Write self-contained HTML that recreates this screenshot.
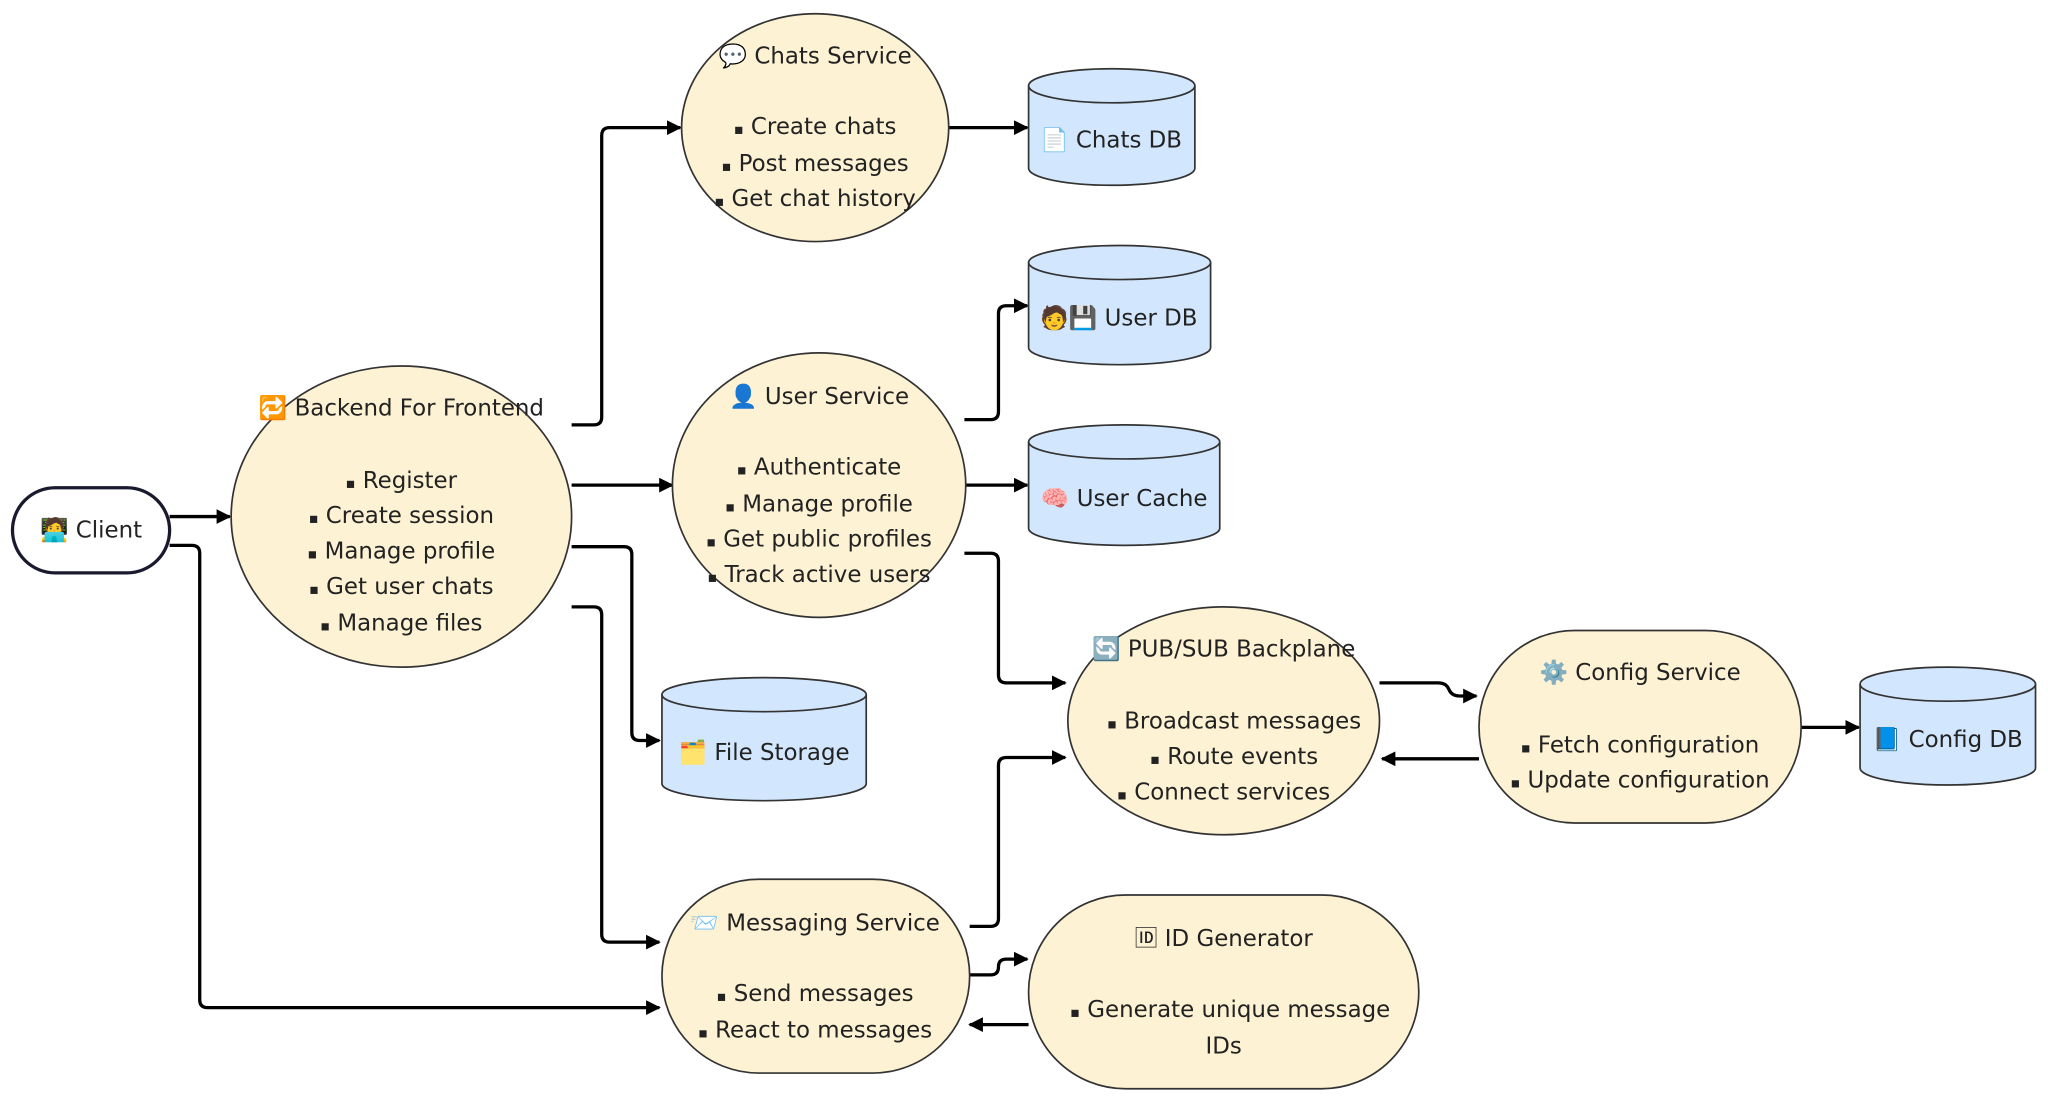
<!DOCTYPE html>
<html><head><meta charset="utf-8"><style>
html,body{margin:0;padding:0;background:#fff;}
svg{display:block}
text{font-family:"DejaVu Sans","Liberation Sans","Noto Sans CJK SC",sans-serif;font-size:17.5px;fill:#222;text-anchor:middle;}
tspan.b{font-size:11px;}
</style></head><body>
<svg width="2048" height="1102" viewBox="0 0 1564 841.6" xmlns="http://www.w3.org/2000/svg">
<defs>
<marker id="a" viewBox="0 0 10 10" refX="9" refY="5" markerWidth="4.5" markerHeight="4.5" orient="auto"><path d="M0,0L10,5L0,10z" fill="#000"/></marker>
</defs>
<g transform="translate(-0.5,-0.5)">
<g fill="none" stroke="#000" stroke-width="2.5" stroke-linejoin="round" marker-end="url(#a)">
<path d="M130,395H176"/>
<path d="M130,417H147Q153,417 153,423V764Q153,770 159,770H504"/>
<path d="M437,325H454Q460,325 460,319V104Q460,98 466,98H520"/>
<path d="M437,371H514"/>
<path d="M437,418H477Q483,418 483,424V560Q483,566 489,566H504"/>
<path d="M437,464H454Q460,464 460,470V714Q460,720 466,720H504"/>
<path d="M724,98H785"/>
<path d="M737,321H757Q763,321 763,315V240Q763,234 769,234H785"/>
<path d="M737,371H785"/>
<path d="M737,423H757Q763,423 763,429V516Q763,522 769,522H814"/>
<path d="M741,708H757Q763,708 763,702V585Q763,579 769,579H814"/>
<path d="M741,745H757Q763,745 763,739Q763,733 769,733H785"/>
<path d="M786,783H741"/>
<path d="M1054,522H1099Q1105,522 1107,527Q1109,532 1115,532H1128"/>
<path d="M1130,580H1056"/>
<path d="M1376,556H1420"/>
</g>
<g stroke="#333" stroke-width="1.3" fill="#fdf2d3">
<ellipse cx="307" cy="395" rx="130" ry="115"/>
<ellipse cx="623" cy="98" rx="102" ry="87"/>
<ellipse cx="626" cy="371" rx="112" ry="101"/>
<ellipse cx="935" cy="551" rx="119" ry="87"/>
<rect x="1130" y="482" width="246" height="147" rx="73"/>
<rect x="506" y="672" width="235" height="148" rx="74"/>
<rect x="786" y="684" width="298" height="148" rx="74"/>
</g>
<rect x="10" y="373" width="120" height="65" rx="32.5" fill="#fff" stroke="#1a1a2e" stroke-width="2.5"/>
<g stroke="#333" stroke-width="1.3" fill="#d2e7fd">
<path d="M786,66V129A63.5,13 0 0 0 913,129V66"/><ellipse cx="849.5" cy="66" rx="63.5" ry="13"/>
<path d="M786,201V266A69.5,13 0 0 0 925,266V201"/><ellipse cx="855.5" cy="201" rx="69.5" ry="13"/>
<path d="M786,338V404A73,13 0 0 0 932,404V338"/><ellipse cx="859" cy="338" rx="73" ry="13"/>
<path d="M506,531V599A78,13 0 0 0 662,599V531"/><ellipse cx="584" cy="531" rx="78" ry="13"/>
<path d="M1421,523V587A67,13 0 0 0 1555,587V523"/><ellipse cx="1488" cy="523" rx="67" ry="13"/>
</g>
<text x="70" y="411">🧑‍💻 Client</text>
<text x="307" y="318">🔁 Backend For Frontend</text>
<text x="307" y="373"><tspan class="b">▪</tspan> Register</text>
<text x="307" y="400"><tspan class="b">▪</tspan> Create session</text>
<text x="307" y="427"><tspan class="b">▪</tspan> Manage profile</text>
<text x="307" y="454"><tspan class="b">▪</tspan> Get user chats</text>
<text x="307" y="482"><tspan class="b">▪</tspan> Manage files</text>
<text x="623" y="49">💬 Chats Service</text>
<text x="623" y="103"><tspan class="b">▪</tspan> Create chats</text>
<text x="623" y="131"><tspan class="b">▪</tspan> Post messages</text>
<text x="623" y="158"><tspan class="b">▪</tspan> Get chat history</text>
<text x="849" y="113">📄 Chats DB</text>
<text x="626" y="309">👤 User Service</text>
<text x="626" y="363"><tspan class="b">▪</tspan> Authenticate</text>
<text x="626" y="391"><tspan class="b">▪</tspan> Manage profile</text>
<text x="626" y="418"><tspan class="b">▪</tspan> Get public profiles</text>
<text x="626" y="445"><tspan class="b">▪</tspan> Track active users</text>
<text x="855" y="249">🧑💾 User DB</text>
<text x="859" y="387">🧠 User Cache</text>
<text x="584" y="581">🗂️ File Storage</text>
<text x="935" y="502">🔄 PUB/SUB Backplane</text>
<text x="943" y="557"><tspan class="b">▪</tspan> Broadcast messages</text>
<text x="943" y="584"><tspan class="b">▪</tspan> Route events</text>
<text x="935" y="611"><tspan class="b">▪</tspan> Connect services</text>
<text x="1253" y="520">⚙️ Config Service</text>
<text x="1253" y="575"><tspan class="b">▪</tspan> Fetch configuration</text>
<text x="1253" y="602"><tspan class="b">▪</tspan> Update configuration</text>
<text x="1488" y="571">📘 Config DB</text>
<text x="623" y="711">📨 Messaging Service</text>
<text x="623" y="765"><tspan class="b">▪</tspan> Send messages</text>
<text x="623" y="793"><tspan class="b">▪</tspan> React to messages</text>
<text x="935" y="723">🆔 ID Generator</text>
<text x="940" y="777"><tspan class="b">▪</tspan> Generate unique message</text>
<text x="935" y="805">IDs</text>
</g>
</svg>
</body></html>
